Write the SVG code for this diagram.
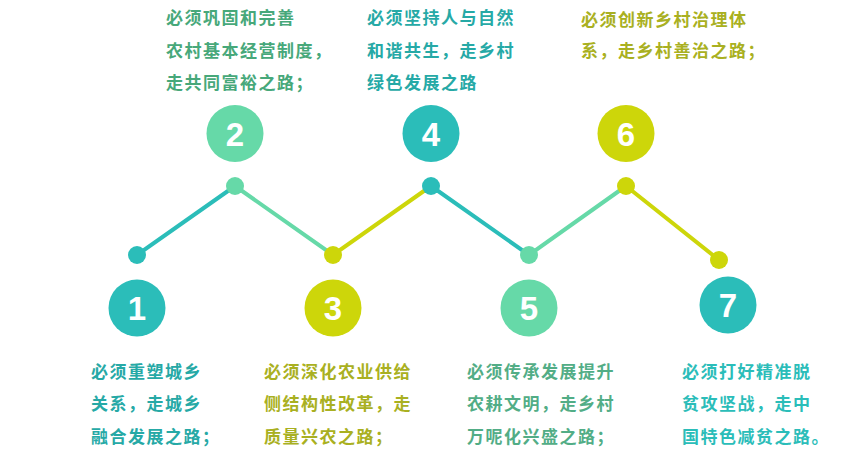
<svg xmlns="http://www.w3.org/2000/svg" width="867" height="461" viewBox="0 0 867 461">
<style>
.t{font-family:"Noto Sans CJK SC","Noto Sans",sans-serif;font-weight:700;font-size:17px;letter-spacing:1.5px}
.n{font-family:"Liberation Sans","Open Sans",sans-serif;font-weight:700;font-size:33px;fill:#fff;text-anchor:middle}
.teal{fill:#2bbdb9}.mint{fill:#66d9a8}.lime{fill:#cdd60a}
.ls{stroke-width:4;fill:none;stroke-linecap:round}
</style>
<rect width="867" height="461" fill="#fff"/>
<g id="connectors">
<line class="ls" x1="137" y1="255" x2="235" y2="186" stroke="#2bbdb9"/>
<line class="ls" x1="235" y1="186" x2="333" y2="255" stroke="#66d9a8"/>
<line class="ls" x1="333" y1="255" x2="431" y2="186" stroke="#cdd60a"/>
<line class="ls" x1="431" y1="186" x2="529" y2="255" stroke="#2bbdb9"/>
<line class="ls" x1="529" y1="255" x2="626" y2="186" stroke="#66d9a8"/>
<line class="ls" x1="626" y1="186" x2="719" y2="260" stroke="#cdd60a"/>
</g>
<g id="node1">
<circle class="teal" cx="137" cy="255" r="9"/>
<circle class="teal" cx="137" cy="308" r="28.5"/>
<text class="n" x="137" y="320">1</text>
<text class="t" fill="#26a9a6"><tspan x="91" y="377.5">必须重塑城乡</tspan><tspan x="91" y="410">关系，走城乡</tspan><tspan x="91" y="442.5">融合发展之路；</tspan></text>
</g>
<g id="node2">
<circle class="mint" cx="235" cy="186" r="9"/>
<circle class="mint" cx="235" cy="133.5" r="28.5"/>
<text class="n" x="235" y="145.5">2</text>
<text class="t" fill="#47a87a"><tspan x="166" y="24">必须巩固和完善</tspan><tspan x="166" y="56.5">农村基本经营制度，</tspan><tspan x="166" y="89">走共同富裕之路；</tspan></text>
</g>
<g id="node3">
<circle class="lime" cx="333" cy="255" r="9"/>
<circle class="lime" cx="333" cy="308" r="28.5"/>
<text class="n" x="333" y="320">3</text>
<text class="t" fill="#a9b021"><tspan x="264" y="377.5">必须深化农业供给</tspan><tspan x="264" y="410">侧结构性改革，走</tspan><tspan x="264" y="442.5">质量兴农之路；</tspan></text>
</g>
<g id="node4">
<circle class="teal" cx="431" cy="186" r="9"/>
<circle class="teal" cx="431" cy="133.5" r="28.5"/>
<text class="n" x="431" y="145.5">4</text>
<text class="t" fill="#26a9a6"><tspan x="367" y="24">必须坚持人与自然</tspan><tspan x="367" y="56.5">和谐共生，走乡村</tspan><tspan x="367" y="89">绿色发展之路</tspan></text>
</g>
<g id="node5">
<circle class="mint" cx="529" cy="255" r="9"/>
<circle class="mint" cx="529" cy="308" r="28.5"/>
<text class="n" x="529" y="320">5</text>
<text class="t" fill="#52ad86"><tspan x="467" y="377.5">必须传承发展提升</tspan><tspan x="467" y="410">农耕文明，走乡村</tspan><tspan x="467" y="442.5">万呢化兴盛之路；</tspan></text>
</g>
<g id="node6">
<circle class="lime" cx="626" cy="186" r="9"/>
<circle class="lime" cx="626" cy="133.5" r="28.5"/>
<text class="n" x="626" y="145.5">6</text>
<text class="t" fill="#a9b021"><tspan x="581" y="25.5">必须创新乡村治理体</tspan><tspan x="581" y="57">系，走乡村善治之路；</tspan></text>
</g>
<g id="node7">
<circle class="lime" cx="719" cy="260" r="9"/>
<circle class="teal" cx="728" cy="305" r="28.5"/>
<text class="n" x="728" y="317">7</text>
<text class="t" fill="#2bbdb9"><tspan x="682" y="377.5">必须打好精准脱</tspan><tspan x="682" y="410">贫攻坚战，走中</tspan><tspan x="682" y="442.5">国特色减贫之路。</tspan></text>
</g>
</svg>
